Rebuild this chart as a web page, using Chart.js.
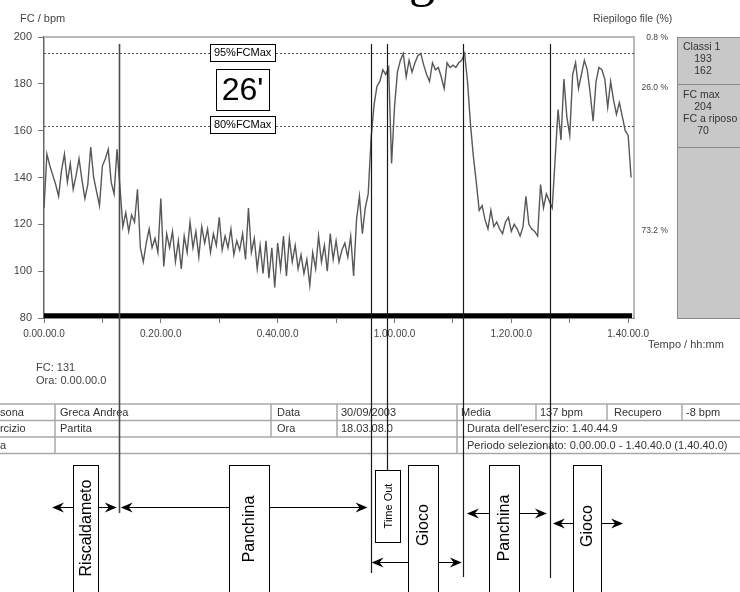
<!DOCTYPE html>
<html>
<head>
<meta charset="utf-8">
<script src="https://cdn.jsdelivr.net/npm/chart.js@4.4.1/dist/chart.umd.min.js"></script>
<style>
  html, body { margin: 0; padding: 0; background: #fff; overflow: hidden; }
  canvas { display: block; }
</style>
</head>
<body>
<canvas id="hr" width="740" height="592"></canvas>
<script>
// Heart-rate recording of the match, one sample every 30 s (bpm)
const sampleStepMin = 0.5;
const heartRate = [
  127,150,145,141,137,132,143,150,138,146,
  135,141,148,139,131,137,153,140,134,128,
  145,148,152,138,133,152,136,119,125,117,
  124,121,135,110,104,112,118,110,114,108,
  131,102,116,110,117,104,113,101,115,108,
  121,110,117,106,119,112,118,108,116,111,
  123,109,115,110,118,107,113,109,116,105,
  127,108,114,101,111,99,113,97,110,93,
  112,101,115,98,114,104,111,101,107,99,
  105,94,108,101,115,104,111,100,116,105,
  113,104,109,112,106,115,98,122,132,116,
  127,133,157,171,179,181,186,184,187,146,
  170,185,190,193,183,190,185,189,192,193,
  188,184,181,189,186,187,183,178,189,187,
  188,187,189,190,193,181,163,149,138,126,
  128,122,118,126,119,121,118,116,121,123,
  117,120,118,115,119,132,120,118,117,115,
  137,127,133,130,127,148,169,156,182,166,
  158,184,189,178,184,190,186,176,164,181,
  187,186,182,170,181,173,167,172,166,160,
  158,140
];

// Axis ticks
const xTickMinutes = [0, 10, 20, 30, 40, 50, 60, 70, 80, 90, 100];
const xLabelMinutes = [0, 20, 40, 60, 80, 100];
const xTickLabels = ['0.00.00.0', '0.20.00.0', '0.40.00.0', '1.00.00.0', '1.20.00.0', '1.40.00.0'];
const yTickValues = [80, 100, 120, 140, 160, 180, 200];

// Training zones
const thresholdValues = [193, 162];
const thresholdLabels = ['95%FCMax', '80%FCMax'];
const zoneShares = ['0.8 %', '26.0 %', '73.2 %'];
const minutesInZone = "26'";
const fcMax = 204;
const fcRest = 70;

// Cursor readout
const cursorFc = 131;
const cursorTime = '0.00.00.0';

// Selected period (minutes) and its marker level on the bpm axis
const selectedPeriod = [0, 100.67];
const selectionLevel = 81;

// Phases of the session (minutes)
const markerTimes = [12.8, 55.9, 58.8, 71.7, 86.6];
const phaseNames = ['Riscaldameto', 'Panchina', 'Gioco', 'Panchina', 'Gioco'];
const phaseStart = [0, 12.8, 55.9, 71.7, 86.6];
const phaseEnd = [12.8, 55.9, 71.7, 86.6, 100.67];
const timeOutAt = 58.8;
const timeOutLabel = 'Time Out';

// Session summary table
const tableRow1 = ['Persona', 'Greca Andrea', 'Data', '30/09/2003', 'Media', '137 bpm', 'Recupero', '-8 bpm'];
const tableRow2 = ['Esercizio', 'Partita', 'Ora', '18.03.08.0', "Durata dell'esercizio: 1.40.44.9"];
const tableRow3 = ['Nota', 'Periodo selezionato: 0.00.00.0 - 1.40.40.0 (1.40.40.0)'];

// ---- layout (pixels) ----
const SANS = '"Liberation Sans", Arial, sans-serif';
const SERIF = '"Liberation Serif", "Times New Roman", serif';
const markerLayout = [
  { bottom: 513, color: '#4a4a4a', width: 1.6 },
  { bottom: 573, color: '#1a1a1a', width: 1.2 },
  { bottom: 470, color: '#1a1a1a', width: 1.2 },
  { bottom: 577, color: '#1a1a1a', width: 1.2 },
  { bottom: 578, color: '#1a1a1a', width: 1.2 }
];
const calloutLayout = [
  { boxX: 73,  boxW: 25, arrowY: 507, textY: 528, insetL: 8, insetR: 2 },
  { boxX: 229, boxW: 40, arrowY: 507, textY: 529, insetL: 2, insetR: 3 },
  { boxX: 408, boxW: 30, arrowY: 562, textY: 525, insetL: 1, insetR: 1 },
  { boxX: 489, boxW: 30, arrowY: 513, textY: 528, insetL: 4, insetR: 3 },
  { boxX: 573, boxW: 28, arrowY: 523, textY: 526, insetL: 3, insetR: 9 }
];

function txt(ctx, s, x, y, o = {}) {
  ctx.font = (o.weight || '') + ' ' + (o.size || 11) + 'px ' + (o.family || SANS);
  ctx.fillStyle = o.color || '#333';
  ctx.textAlign = o.align || 'left';
  ctx.textBaseline = o.baseline || 'middle';
  ctx.fillText(s, x, y);
}

function vtxt(ctx, s, cx, cy, size) {
  ctx.save();
  ctx.translate(cx, cy);
  ctx.rotate(-Math.PI / 2);
  txt(ctx, s, 0, 0, { size: size, align: 'center', color: '#000' });
  ctx.restore();
}

function arrowHead(ctx, tipX, y, dir) {
  const L = 12, H = 5, N = 8;
  ctx.beginPath();
  ctx.moveTo(tipX, y);
  ctx.lineTo(tipX - dir * L, y - H);
  ctx.lineTo(tipX - dir * N, y);
  ctx.lineTo(tipX - dir * L, y + H);
  ctx.closePath();
  ctx.fill();
}

function hline(ctx, x1, x2, y) { ctx.beginPath(); ctx.moveTo(x1, y); ctx.lineTo(x2, y); ctx.stroke(); }
function vline(ctx, x, y1, y2) { ctx.beginPath(); ctx.moveTo(x, y1); ctx.lineTo(x, y2); ctx.stroke(); }

const overlay = {
  id: 'overlay',
  beforeDatasetsDraw(chart) {
    const { ctx, chartArea: a, scales: { y } } = chart;
    ctx.save();
    // frame top and right
    ctx.strokeStyle = '#b8b8b8';
    ctx.lineWidth = 2;
    ctx.beginPath();
    ctx.moveTo(a.left, a.top);
    ctx.lineTo(a.right, a.top);
    ctx.lineTo(a.right, a.bottom);
    ctx.stroke();
    // zone thresholds
    ctx.setLineDash([2, 2]);
    ctx.strokeStyle = '#555';
    ctx.lineWidth = 1;
    thresholdValues.forEach(v => hline(ctx, a.left, a.right, Math.round(y.getPixelForValue(v)) + 0.5));
    ctx.restore();
  },
  afterDraw(chart) {
    const { ctx, chartArea: a, scales: { x, y } } = chart;
    ctx.save();

    // page heading (only its descender falls inside the page)
    txt(ctx, 'g', 409, -4, { size: 52, family: SERIF, color: '#000', baseline: 'alphabetic' });

    // axis titles
    txt(ctx, 'FC / bpm', 20, 19, { size: 11, color: '#444' });
    txt(ctx, 'Riepilogo file (%)', 593, 19, { size: 10.5, color: '#444' });
    txt(ctx, 'Tempo / hh:mm', 648, 345, { size: 11, color: '#444' });

    // zone shares
    const shareY = [38, 88, 231];
    zoneShares.forEach((s, i) => txt(ctx, s, 668, shareY[i], { size: 8.5, align: 'right', color: '#444' }));

    // summary panel
    ctx.fillStyle = '#c8c8c8';
    ctx.fillRect(677, a.top, 70, a.bottom - a.top);
    ctx.strokeStyle = '#8a8a8a';
    ctx.lineWidth = 1;
    ctx.strokeRect(677.5, a.top + 0.5, 70, a.bottom - a.top);
    hline(ctx, 677, 740, 84.5);
    hline(ctx, 677, 740, 147.5);
    txt(ctx, 'Classi 1', 683, 47, { size: 10.5 });
    txt(ctx, String(thresholdValues[0]), 703, 59, { size: 10.5, align: 'center' });
    txt(ctx, String(thresholdValues[1]), 703, 71, { size: 10.5, align: 'center' });
    txt(ctx, 'FC max', 683, 95, { size: 10.5 });
    txt(ctx, String(fcMax), 703, 107, { size: 10.5, align: 'center' });
    txt(ctx, 'FC a riposo', 683, 119, { size: 10.5 });
    txt(ctx, String(fcRest), 703, 131, { size: 10.5, align: 'center' });

    // threshold labels and minutes-in-zone box
    const boxCx = x.getPixelForValue(34);
    ctx.lineWidth = 1;
    ctx.strokeStyle = '#000';
    const yPx = thresholdValues.map(v => y.getPixelForValue(v));
    thresholdLabels.forEach((lab, i) => {
      const w = 65, h = 17;
      const bx = Math.round(boxCx - w / 2) + 0.5, by = Math.round(yPx[i] - h / 2) - 1 + 0.5;
      ctx.fillStyle = '#fff';
      ctx.fillRect(bx, by, w, h);
      ctx.strokeRect(bx, by, w, h);
      txt(ctx, lab, boxCx, by + h / 2, { size: 11, align: 'center', color: '#000' });
    });
    {
      const w = 53, h = 41, cy = (yPx[0] + yPx[1]) / 2;
      const bx = Math.round(boxCx - w / 2) + 0.5, by = Math.round(cy - h / 2) + 0.5;
      ctx.fillStyle = '#fff';
      ctx.fillRect(bx, by, w, h);
      ctx.strokeRect(bx, by, w, h);
      txt(ctx, minutesInZone, boxCx, cy + 1, { size: 32, align: 'center', color: '#000' });
    }

    // cursor readout
    txt(ctx, 'FC: ' + cursorFc, 36, 368, { size: 11, color: '#444' });
    txt(ctx, 'Ora: ' + cursorTime, 36, 381, { size: 11, color: '#444' });

    // summary table
    const rows = [404, 420.5, 437, 453.5];
    ctx.strokeStyle = '#a8a8a8';
    ctx.lineWidth = 1.5;
    rows.forEach(r => hline(ctx, 0, 740, r));
    [[55, 271, 337, 457, 536, 607, 682], [55, 271, 337, 457], [55, 457]].forEach((cols, ri) => {
      cols.forEach(c => vline(ctx, c, rows[ri], rows[ri + 1]));
    });
    const ty = [412.5, 429, 445.5];
    const opt = { size: 11, color: '#333' };
    const x1 = [-17, 60, 277, 341, 461, 540, 614, 686];
    tableRow1.forEach((s, i) => txt(ctx, s, x1[i], ty[0], opt));
    const x2 = [-19, 60, 277, 341, 467];
    tableRow2.forEach((s, i) => txt(ctx, s, x2[i], ty[1], opt));
    const x3 = [-17, 467];
    tableRow3.forEach((s, i) => txt(ctx, s, x3[i], ty[2], opt));

    // phase markers
    markerTimes.forEach((t, i) => {
      const m = markerLayout[i];
      ctx.strokeStyle = m.color;
      ctx.lineWidth = m.width;
      vline(ctx, Math.round(x.getPixelForValue(t)) + 0.5, 44, m.bottom);
    });

    // phase callouts
    ctx.strokeStyle = '#000';
    phaseNames.forEach((name, i) => {
      const c = calloutLayout[i];
      const tipL = x.getPixelForValue(phaseStart[i]) + c.insetL;
      const tipR = x.getPixelForValue(phaseEnd[i]) - c.insetR;
      const ay = c.arrowY + 0.5;
      ctx.lineWidth = 1;
      hline(ctx, c.boxX, tipL + 6, ay);
      hline(ctx, c.boxX + c.boxW, tipR - 6, ay);
      ctx.fillStyle = '#000';
      arrowHead(ctx, tipL, ay, -1);
      arrowHead(ctx, tipR, ay, 1);
      ctx.fillStyle = '#fff';
      ctx.fillRect(c.boxX + 0.5, 465.5, c.boxW, 140);
      ctx.strokeRect(c.boxX + 0.5, 465.5, c.boxW, 140);
      vtxt(ctx, name, c.boxX + c.boxW / 2 + 1, c.textY, 16);
    });
    {
      const cx = x.getPixelForValue(timeOutAt);
      const w = 25, h = 72;
      const bx = Math.round(cx - 12) + 0.5;
      ctx.fillStyle = '#fff';
      ctx.lineWidth = 1;
      ctx.fillRect(bx, 470.5, w, h);
      ctx.strokeRect(bx, 470.5, w, h);
      vtxt(ctx, timeOutLabel, bx + w / 2 + 0.5, 506, 11);
    }
    ctx.restore();
  }
};

new Chart(document.getElementById('hr'), {
  type: 'line',
  data: {
    datasets: [
      {
        label: 'FC',
        data: heartRate.map((v, i) => ({ x: i * sampleStepMin, y: v })),
        borderColor: '#585858',
        borderWidth: 1.4,
        pointRadius: 0,
        tension: 0
      },
      {
        label: 'Periodo selezionato',
        data: selectedPeriod.map(t => ({ x: t, y: selectionLevel })),
        borderColor: '#000',
        borderWidth: 5,
        borderCapStyle: 'butt',
        pointRadius: 0
      }
    ]
  },
  options: {
    responsive: false,
    animation: false,
    devicePixelRatio: 1,
    layout: { padding: { left: 0, right: 106, top: 37, bottom: 254 } },
    plugins: { legend: { display: false }, tooltip: { enabled: false } },
    scales: {
      x: {
        type: 'linear',
        min: 0,
        max: 101,
        afterFit(s) { s.height = 20; },
        afterBuildTicks(s) { s.ticks = xTickMinutes.map(v => ({ value: v })); },
        ticks: {
          autoSkip: false,
          maxRotation: 0,
          padding: 5,
          color: '#444',
          font: { family: SANS, size: 10 },
          callback: v => {
            const k = xLabelMinutes.indexOf(v);
            return k >= 0 ? xTickLabels[k] : '';
          }
        },
        grid: { drawOnChartArea: false, tickLength: 5, color: '#777' },
        border: { color: '#888', width: 1 }
      },
      y: {
        min: 80,
        max: 200,
        afterFit(s) { s.width = 44; },
        afterBuildTicks(s) { s.ticks = yTickValues.map(v => ({ value: v })); },
        ticks: {
          padding: 6,
          color: '#444',
          font: { family: SANS, size: 11 }
        },
        grid: { drawOnChartArea: false, tickLength: 6, color: '#777' },
        border: { color: '#666', width: 1.5 }
      }
    }
  },
  plugins: [overlay]
});
</script>
</body>
</html>
